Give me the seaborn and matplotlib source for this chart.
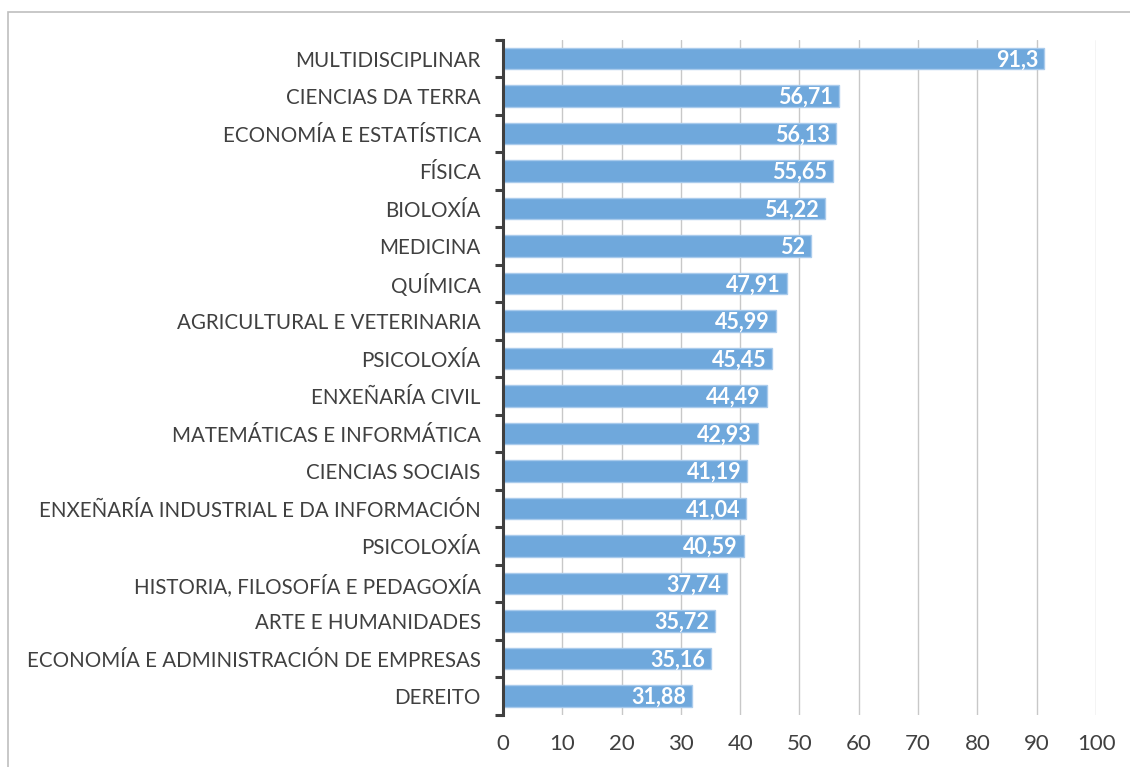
import numpy as np
import pandas as pd
import matplotlib.pyplot as plt
import seaborn as sns

# Data
categories = [
    'MULTIDISCIPLINAR', 'CIENCIAS DA TERRA', 'ECONOMÍA E ESTATÍSTICA', 'FÍSICA',
    'BIOLOXÍA', 'MEDICINA', 'QUÍMICA', 'AGRICULTURAL E VETERINARIA', 'PSICOLOXÍA',
    'ENXEÑARÍA CIVIL', 'MATEMÁTICAS E INFORMÁTICA', 'CIENCIAS SOCIAIS',
    'ENXEÑARÍA INDUSTRIAL E DA INFORMACIÓN', 'PSICOLOXÍA',
    'HISTORIA, FILOSOFÍA E PEDAGOXÍA', 'ARTE E HUMANIDADES',
    'ECONOMÍA E ADMINISTRACIÓN DE EMPRESAS', 'DEREITO',
]
values = [91.3, 56.71, 56.13, 55.65, 54.22, 52, 47.91, 45.99, 45.45, 44.49,
          42.93, 41.19, 41.04, 40.59, 37.74, 35.72, 35.16, 31.88]
value_labels = ['91,3', '56,71', '56,13', '55,65', '54,22', '52', '47,91', '45,99',
                '45,45', '44,49', '42,93', '41,19', '41,04', '40,59', '37,74',
                '35,72', '35,16', '31,88']

# PSICOLOXÍA appears twice, so bars are keyed by row number
df = pd.DataFrame({'row': [str(i) for i in range(len(categories))], 'value': values})

sns.set_theme(style='white')
plt.rcParams['font.family'] = ['Lato', 'DejaVu Sans']

fig = plt.figure(figsize=(11.3, 7.67), dpi=100)
ax = fig.add_axes([0.445, 0.068, 0.525, 0.88])

sns.barplot(data=df, x='value', y='row', orient='h', color='#6FA8DC',
            saturation=1, width=0.57, edgecolor='#A9CBEC', linewidth=1, ax=ax)

for bar, lab in zip(ax.patches, value_labels):
    ax.text(bar.get_width() - 1.0, bar.get_y() + bar.get_height() / 2 + 0.04, lab,
            ha='right', va='center', color='white', fontsize=15.5, fontweight='bold')

ax.set_xlim(0, 100)
ax.set_ylim(len(categories) - 0.5, -0.5)
ax.set_yticks(range(len(categories)))
ax.set_yticklabels(categories)
ax.set_xticks(np.arange(0, 101, 10))
ax.xaxis.grid(True, color='#C8C8C8', linewidth=1)
ax.set_axisbelow(True)
ax.set_xlabel('')
ax.set_ylabel('')

for s in ['top', 'right', 'bottom']:
    ax.spines[s].set_visible(False)
ax.spines['left'].set_color('#404040')
ax.spines['left'].set_linewidth(2.2)

ax.tick_params(axis='y', which='major', length=0, pad=16, labelsize=14.8, labelcolor='#404040')
ax.set_yticks(np.arange(-0.5, len(categories), 1), minor=True)
ax.tick_params(axis='y', which='minor', length=6, width=2.2, color='#404040', left=True)
ax.tick_params(axis='x', length=0, pad=14, labelsize=16, labelcolor='#404040')

# outer frame
fig.patches.append(plt.Rectangle((8 / 1130, -0.1), 1.2, 1 - 12 / 767 + 0.1,
                                 transform=fig.transFigure, fill=False,
                                 edgecolor='#BFBFBF', linewidth=1.2))

fig.savefig('out.png', dpi=100)
